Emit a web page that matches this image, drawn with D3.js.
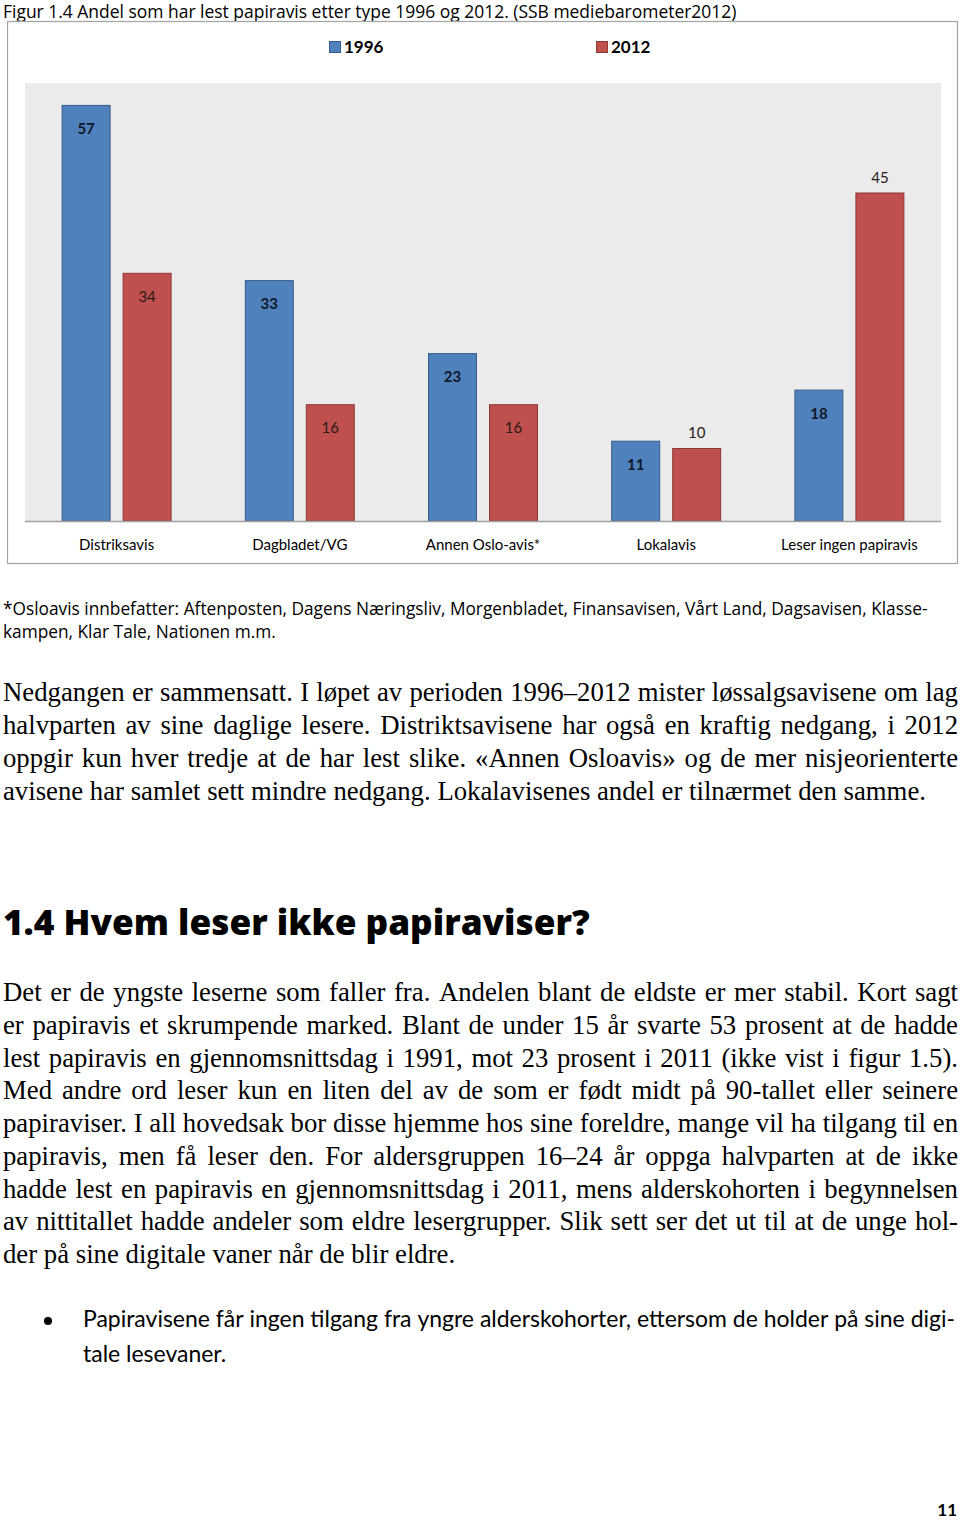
<!DOCTYPE html>
<html><head><meta charset="utf-8">
<script src="https://cdn.jsdelivr.net/npm/d3@7/dist/d3.min.js"></script>
<style>body{margin:0;background:#fff}svg{display:block}</style>
</head><body>
<svg id="page" width="960" height="1521"></svg>
<script>
// ---------- data ----------
const categories = ["Distriksavis", "Dagbladet/VG", "Annen Oslo-avis*", "Lokalavis", "Leser ingen papiravis"];
const seriesNames = ["1996", "2012"];
const values1996 = [57, 33, 23, 11, 18];
const values2012 = [34, 16, 16, 10, 45];
const labelOutside1996 = [false, false, false, false, false];
const labelOutside2012 = [false, false, false, true, true];
const yDomain = [0, 60];

const titleText = "Figur 1.4 Andel som har lest papiravis etter type 1996 og 2012. (SSB mediebarometer2012)";
const footnoteLines = [
  "*Osloavis innbefatter: Aftenposten, Dagens Næringsliv, Morgenbladet, Finansavisen, Vårt Land, Dagsavisen, Klasse-",
  "kampen, Klar Tale, Nationen m.m."
];
const para1Lines = [
  "Nedgangen er sammensatt. I løpet av perioden 1996–2012 mister løssalgsavisene om lag",
  "halvparten av sine daglige lesere. Distriktsavisene har også en kraftig nedgang, i 2012",
  "oppgir kun hver tredje at de har lest slike. «Annen Osloavis» og de mer nisjeorienterte",
  "avisene har samlet sett mindre nedgang. Lokalavisenes andel er tilnærmet den samme."
];
const headingText = "1.4 Hvem leser ikke papiraviser?";
const para2Lines = [
  "Det er de yngste leserne som faller fra. Andelen blant de eldste er mer stabil. Kort sagt",
  "er papiravis et skrumpende marked. Blant de under 15 år svarte 53 prosent at de hadde",
  "lest papiravis en gjennomsnittsdag i 1991, mot 23 prosent i 2011 (ikke vist i figur 1.5).",
  "Med andre ord leser kun en liten del av de som er født midt på 90-tallet eller seinere",
  "papiraviser. I all hovedsak bor disse hjemme hos sine foreldre, mange vil ha tilgang til en",
  "papiravis, men få leser den. For aldersgruppen 16–24 år oppga halvparten at de ikke",
  "hadde lest en papiravis en gjennomsnittsdag i 2011, mens alderskohorten i begynnelsen",
  "av nittitallet hadde andeler som eldre lesergrupper. Slik sett ser det ut til at de unge hol-",
  "der på sine digitale vaner når de blir eldre."
];
const bulletLines = [
  "Papiravisene får ingen tilgang fra yngre alderskohorter, ettersom de holder på sine digi-",
  "tale lesevaner."
];
const pageNumber = "11";

// ---------- layout ----------
const svg = d3.select("#page");
svg.append("rect").attr("width", 960).attr("height", 1521).attr("fill", "#fff");

const SANS = "'Open Sans', 'DejaVu Sans', sans-serif";
const CAL = "Lato, 'Open Sans', sans-serif";
const SERIF = "'Liberation Serif', 'DejaVu Serif', serif";

function fitWidth(sel, target) {
  const w = sel.node().getComputedTextLength();
  const fs = parseFloat(sel.attr("font-size"));
  sel.attr("font-size", fs * target / w);
  return fs * target / w;
}

// title
const title = svg.append("text").attr("x", 3).attr("y", 18)
  .attr("font-family", SANS).attr("font-size", 17).attr("fill", "#000").text(titleText);
fitWidth(title, 734);

// chart frame
const frame = {x: 7, y: 21, w: 950, h: 542};
svg.append("rect").attr("x", frame.x + 0.5).attr("y", frame.y + 0.5)
  .attr("width", frame.w).attr("height", frame.h)
  .attr("fill", "#fff").attr("stroke", "#a3a3a3").attr("stroke-width", 1.2);

const plot = {left: 25, right: 941, top: 83, bottom: 521};
svg.append("rect").attr("x", plot.left).attr("y", plot.top)
  .attr("width", plot.right - plot.left).attr("height", plot.bottom - plot.top)
  .attr("fill", "#ebebeb");

const x0 = d3.scaleBand().domain(categories).range([plot.left, plot.right]);
const x1 = d3.scaleBand().domain(seriesNames).range([0, x0.bandwidth()])
  .paddingInner(0.197).paddingOuter(0.6);
const y = d3.scaleLinear().domain(yDomain).range([plot.bottom, plot.top]);

const fills = {"1996": "#4f81bd", "2012": "#c0504d"};
const strokes = {"1996": "#385d8a", "2012": "#8c3836"};
const labelColor = {"1996": "#111827", "2012": "#2a1a1a"};
const labelWeight = {"1996": "bold", "2012": "normal"};

const rows = categories.map((c, i) => ({
  cat: c,
  bars: [
    {s: "1996", v: values1996[i], out: labelOutside1996[i]},
    {s: "2012", v: values2012[i], out: labelOutside2012[i]}
  ]
}));

const groups = svg.append("g").selectAll("g").data(rows).join("g")
  .attr("transform", d => `translate(${x0(d.cat)},0)`);

groups.selectAll("rect").data(d => d.bars).join("rect")
  .attr("x", d => x1(d.s) + 0.5)
  .attr("y", d => y(d.v) + 0.5)
  .attr("width", x1.bandwidth() - 1)
  .attr("height", d => y(0) - y(d.v) - 0.5)
  .attr("fill", d => fills[d.s])
  .attr("stroke", d => strokes[d.s]).attr("stroke-width", 1);

groups.selectAll("text").data(d => d.bars).join("text")
  .attr("x", d => x1(d.s) + x1.bandwidth() / 2)
  .attr("y", d => d.out ? y(d.v) - 10 : y(d.v) + 29)
  .attr("text-anchor", "middle")
  .attr("font-family", CAL).attr("font-size", 15)
  .attr("font-weight", d => labelWeight[d.s])
  .attr("fill", d => labelColor[d.s])
  .text(d => d.v);

// baseline
svg.append("line").attr("x1", plot.left).attr("x2", plot.right)
  .attr("y1", plot.bottom + 0.5).attr("y2", plot.bottom + 0.5)
  .attr("stroke", "#a0a0a0").attr("stroke-width", 1.5);

// category axis labels
const xAxis = d3.axisBottom(x0).tickSize(0).tickPadding(0);
const ax = svg.append("g").attr("transform", `translate(0,${plot.bottom})`).call(xAxis);
ax.select(".domain").remove();
ax.selectAll("text").attr("font-family", CAL).attr("font-size", 15)
  .attr("fill", "#000").attr("dy", 0).attr("y", 29);

// legend
const legendX = {"1996": 329, "2012": 596};
const leg = svg.append("g").selectAll("g").data(seriesNames).join("g")
  .attr("transform", d => `translate(${legendX[d]},41)`);
leg.append("rect").attr("x", 0.5).attr("y", 0.5).attr("width", 11).attr("height", 11)
  .attr("fill", d => fills[d]).attr("stroke", d => strokes[d]).attr("stroke-width", 1);
leg.append("text").attr("x", 15).attr("y", 12)
  .attr("font-family", CAL).attr("font-size", 17).attr("font-weight", "bold")
  .attr("fill", "#000").text(d => d);

// footnote
const fn1 = svg.append("text").attr("x", 3).attr("y", 615)
  .attr("font-family", SANS).attr("font-size", 16).attr("fill", "#000").text(footnoteLines[0]);
const fnSize = fitWidth(fn1, 925);
svg.append("text").attr("x", 3).attr("y", 638)
  .attr("font-family", SANS).attr("font-size", fnSize).attr("fill", "#000").text(footnoteLines[1]);

// justified text
function spaceWidth(font) {
  const t = svg.append("text").attr("font-family", font.family).attr("font-size", font.size)
    .attr("font-weight", font.weight || "normal").attr("xml:space", "preserve");
  t.text("a a"); const a = t.node().getComputedTextLength();
  t.text("aa"); const b = t.node().getComputedTextLength();
  t.remove();
  return a - b;
}
function drawLine(line, xs, xe, yb, font, justify, scaleHint) {
  const g = svg.append("g");
  const words = line.split(" ");
  const ts = words.map(w => g.append("text").attr("font-family", font.family)
    .attr("font-size", font.size).attr("font-weight", font.weight || "normal")
    .attr("fill", "#000").attr("y", 0).text(w));
  const ws = ts.map(t => t.node().getComputedTextLength());
  const sum = d3.sum(ws);
  const sp = spaceWidth(font);
  const W = xe - xs;
  const natural = sum + sp * (words.length - 1);
  let s = scaleHint, gap = sp;
  if (justify) {
    if (natural > W) { s = W / natural; gap = sp; }
    else { s = 1; gap = (W - sum) / (words.length - 1); }
  }
  let xx = 0;
  ts.forEach((t, i) => { t.attr("x", xx); xx += ws[i] + gap; });
  g.attr("transform", `translate(${xs},${yb}) scale(${s},1)`);
  return s;
}
function drawParagraph(lines, xs, xe, y0, lh, font, justifyLast) {
  const scales = [];
  lines.forEach((ln, i) => {
    const last = i === lines.length - 1;
    const hint = scales.length ? Math.min(1, d3.mean(scales)) : 1;
    const s = drawLine(ln, xs, xe, y0 + i * lh, font, !last || justifyLast, hint);
    if (!last) scales.push(s);
  });
}

// paragraph font size from the free-running last line of paragraph 1
const probe = svg.append("text").attr("font-family", SERIF).attr("font-size", 20)
  .attr("xml:space", "preserve").text(para1Lines[3]);
const serifSize = 20 * 923 / probe.node().getComputedTextLength();
probe.remove();
const serifFont = {family: SERIF, size: serifSize};

drawParagraph(para1Lines, 3, 958, 701, 33, serifFont, false);

const head = svg.append("text").attr("x", 3).attr("y", 935)
  .attr("font-family", SANS).attr("font-size", 31).attr("font-weight", 800)
  .attr("fill", "#000").text(headingText);
fitWidth(head, 587);

drawParagraph(para2Lines, 3, 958, 1001, 32.75, serifFont, false);

// bullet
svg.append("circle").attr("cx", 48).attr("cy", 1321).attr("r", 4).attr("fill", "#000");
const bprobe = svg.append("text").attr("font-family", CAL).attr("font-size", 20)
  .attr("xml:space", "preserve").text(bulletLines[0]);
const bSize = 20 * 872 / bprobe.node().getComputedTextLength();
bprobe.remove();
drawParagraph(bulletLines, 83, 955, 1327, 35, {family: CAL, size: bSize}, false);

// page number
svg.append("text").attr("x", 957).attr("y", 1516).attr("text-anchor", "end")
  .attr("font-family", CAL).attr("font-size", 17).attr("font-weight", "bold")
  .attr("fill", "#000").text(pageNumber);
</script>
</body></html>
